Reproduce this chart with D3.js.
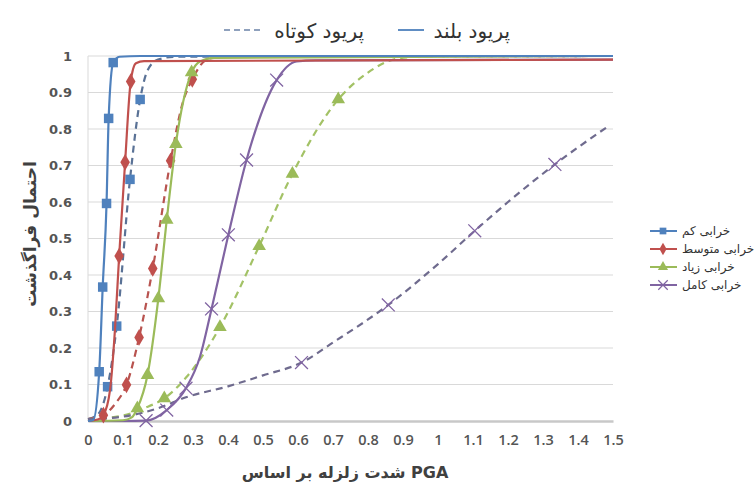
<!DOCTYPE html>
<html>
<head>
<meta charset="utf-8">
<script src="https://cdn.jsdelivr.net/npm/d3@7"></script>
<style>
  body { margin: 0; background: #fff; }
  svg { display: block; }
</style>
</head>
<body>
<svg id="chart" width="756" height="488"></svg>
<script>
// tick labels
const xTicks = [0, 0.1, 0.2, 0.3, 0.4, 0.5, 0.6, 0.7, 0.8, 0.9, 1, 1.1, 1.2, 1.3, 1.4, 1.5]
const yTicks = [0, 0.1, 0.2, 0.3, 0.4, 0.5, 0.6, 0.7, 0.8, 0.9, 1]

const damageNames = ['خرابی کم', 'خرابی متوسط', 'خرابی زیاد', 'خرابی کامل']
const periodNames = ['پریود بلند', 'پریود کوتاه']

// curves, [PGA, probability]
// long period = solid, short period = dashed
const lowLong = [[0, 0], [0.015, 0.003], [0.032, 0.135], [0.042, 0.367], [0.053, 0.596], [0.059, 0.829], [0.072, 0.982], [0.09, 0.998], [0.15, 1], [1.5, 1]]
const lowLongMarks = [[0.032, 0.135], [0.042, 0.367], [0.053, 0.596], [0.059, 0.829], [0.072, 0.982]]
const lowShort = [[0, 0.005], [0.03, 0.02], [0.056, 0.094], [0.082, 0.26], [0.12, 0.662], [0.149, 0.881], [0.17, 0.96], [0.2, 0.99], [0.25, 0.998], [1.5, 1]]
const lowShortMarks = [[0.056, 0.094], [0.082, 0.26], [0.12, 0.662], [0.149, 0.881]]

const modLong = [[0, 0], [0.03, 0.005], [0.044, 0.016], [0.063, 0.085], [0.077, 0.25], [0.089, 0.452], [0.106, 0.709], [0.122, 0.93], [0.137, 0.98], [0.16, 0.986], [1.5, 0.99]]
const modLongMarks = [[0.044, 0.016], [0.089, 0.452], [0.106, 0.709], [0.122, 0.93]]
const modShort = [[0, 0.005], [0.05, 0.02], [0.08, 0.05], [0.11, 0.099], [0.146, 0.229], [0.185, 0.418], [0.236, 0.713], [0.27, 0.87], [0.298, 0.936], [0.339, 0.99], [0.38, 0.998], [1.5, 1]]
const modShortMarks = [[0.11, 0.099], [0.146, 0.229], [0.185, 0.418], [0.236, 0.713], [0.298, 0.936]]

const highLong = [[0, 0], [0.1, 0.002], [0.125, 0.01], [0.141, 0.035], [0.17, 0.126], [0.201, 0.336], [0.225, 0.551], [0.251, 0.759], [0.296, 0.955], [0.32, 0.985], [0.36, 0.995], [1.5, 1]]
const highLongMarks = [[0.141, 0.035], [0.17, 0.126], [0.201, 0.336], [0.225, 0.551], [0.251, 0.759], [0.296, 0.955]]
const highShort = [[0, 0.005], [0.1, 0.015], [0.16, 0.035], [0.218, 0.062], [0.282, 0.121], [0.377, 0.257], [0.489, 0.479], [0.584, 0.677], [0.715, 0.881], [0.796, 0.952], [0.891, 0.994], [1, 1], [1.5, 1]]
const highShortMarks = [[0.218, 0.062], [0.377, 0.257], [0.489, 0.479], [0.584, 0.677], [0.715, 0.881]]

const compLong = [[0, 0], [0.1, 0], [0.166, 0.001], [0.225, 0.03], [0.28, 0.09], [0.32, 0.176], [0.353, 0.307], [0.401, 0.51], [0.453, 0.715], [0.539, 0.934], [0.596, 0.985], [0.65, 0.988], [1.5, 0.99]]
const compLongMarks = [[0.166, 0.001], [0.225, 0.03], [0.28, 0.09], [0.353, 0.307], [0.401, 0.51], [0.453, 0.715], [0.539, 0.934]]
const compShort = [[0, 0.005], [0.1, 0.012], [0.2, 0.035], [0.28, 0.065], [0.4, 0.095], [0.5, 0.125], [0.61, 0.16], [0.7, 0.215], [0.858, 0.318], [1, 0.43], [1.105, 0.521], [1.2, 0.6], [1.334, 0.703], [1.49, 0.81]]
const compShortMarks = [[0.61, 0.16], [0.858, 0.318], [1.105, 0.521], [1.334, 0.703]]

const colors = ['#4f81bd', '#c0504d', '#9bbb59', '#8064a2']
const dashColors = ['#5a7296', '#b8534f', '#a3c266', '#6f6b8e']
const symbols = [d3.symbolSquare, d3.symbolDiamond, d3.symbolTriangle, d3.symbolX]
const markSize = [90, 80, 80, 110]

const series = [
  {i: 0, line: lowShort, marks: lowShortMarks, dashed: true},
  {i: 1, line: modShort, marks: modShortMarks, dashed: true},
  {i: 2, line: highShort, marks: highShortMarks, dashed: true},
  {i: 3, line: compShort, marks: compShortMarks, dashed: true},
  {i: 3, line: compLong, marks: compLongMarks, dashed: false},
  {i: 2, line: highLong, marks: highLongMarks, dashed: false},
  {i: 1, line: modLong, marks: modLongMarks, dashed: false},
  {i: 0, line: lowLong, marks: lowLongMarks, dashed: false},
]

const svg = d3.select('#chart')
const x = d3.scaleLinear().domain([0, 1.5]).range([88, 613])
const y = d3.scaleLinear().domain([0, 1]).range([421, 56])

// grid
svg.append('g')
  .selectAll('line')
  .data(yTicks.filter(d => d > 0))
  .join('line')
  .attr('x1', x(0)).attr('x2', x(1.5))
  .attr('y1', d => y(d)).attr('y2', d => y(d))
  .attr('stroke', '#d9d9d9')
  .attr('stroke-width', 1)

svg.append('line')
  .attr('x1', x(0)).attr('x2', x(0))
  .attr('y1', y(0)).attr('y2', y(1))
  .attr('stroke', '#d9d9d9')

// axes, library generated, then restyled
const xAxis = svg.append('g')
  .attr('transform', `translate(0,${y(0)})`)
  .call(d3.axisBottom(x).tickValues(xTicks).tickSize(0).tickPadding(14).tickFormat(d3.format('~g')))
xAxis.select('.domain').attr('stroke', '#c8c8c8').attr('stroke-width', 2.5)
xAxis.selectAll('text')
  .attr('font-family', 'Open Sans, sans-serif')
  .attr('font-size', 14.5).attr('font-weight', 600).attr('fill', '#555')

const yAxis = svg.append('g')
  .attr('transform', `translate(${x(0)},0)`)
  .call(d3.axisLeft(y).tickValues(yTicks).tickSize(0).tickPadding(16).tickFormat(d3.format('~g')))
yAxis.select('.domain').remove()
yAxis.selectAll('text')
  .attr('font-family', 'DejaVu Sans, sans-serif')
  .attr('font-size', 13).attr('font-weight', 'bold').attr('fill', '#555')

// curves
const line = d3.line()
  .x(d => x(d[0])).y(d => y(d[1]))
  .curve(d3.curveMonotoneX)

const plot = svg.append('g')
series.forEach(s => {
  const c = s.dashed ? dashColors[s.i] : colors[s.i]
  plot.append('path')
    .attr('d', line(s.line))
    .attr('fill', 'none')
    .attr('stroke', c)
    .attr('stroke-width', 2.2)
    .attr('stroke-dasharray', s.dashed ? '7,5' : null)
  plot.append('g')
    .selectAll('path')
    .data(s.marks)
    .join('path')
    .attr('transform', d => `translate(${x(d[0])},${y(d[1])})`)
    .attr('d', d3.symbol().type(symbols[s.i]).size(markSize[s.i]))
    .attr('fill', s.i === 3 ? 'none' : colors[s.i])
    .attr('stroke', colors[s.i])
    .attr('stroke-width', s.i === 3 ? 1.3 : 0)
})

// axis titles
svg.append('text')
  .attr('transform', `translate(36,234) rotate(-90)`)
  .attr('text-anchor', 'middle')
  .attr('font-family', 'DejaVu Sans, sans-serif')
  .attr('font-size', 17).attr('font-weight', 'bold').attr('fill', '#404040')
  .text('احتمال فراگذشت')

svg.append('text')
  .attr('x', 345).attr('y', 478)
  .attr('text-anchor', 'middle')
  .attr('font-family', 'DejaVu Sans, sans-serif')
  .attr('font-size', 16).attr('font-weight', 'bold').attr('fill', '#404040')
  .attr('direction', 'ltr')
  .text('شدت زلزله بر اساس PGA')

// period legend at the top
const periodLegend = svg.append('g').attr('font-family', 'DejaVu Sans, sans-serif')
  .attr('font-size', 20).attr('fill', '#333')
periodLegend.append('text').attr('x', 510).attr('y', 38).attr('text-anchor', 'end').text(periodNames[0])
periodLegend.append('line').attr('x1', 398).attr('x2', 424).attr('y1', 30).attr('y2', 30)
  .attr('stroke', colors[0]).attr('stroke-width', 1.8)
periodLegend.append('text').attr('x', 364).attr('y', 38).attr('text-anchor', 'end').text(periodNames[1])
periodLegend.append('line').attr('x1', 224).attr('x2', 260).attr('y1', 30).attr('y2', 30)
  .attr('stroke', '#6b82a8').attr('stroke-width', 1.6).attr('stroke-dasharray', '6,4')

// damage legend on the right
const legend = svg.append('g')
  .selectAll('g')
  .data(damageNames)
  .join('g')
  .attr('transform', (d, i) => `translate(0,${231 + i * 18})`)
legend.append('line')
  .attr('x1', 650).attr('x2', 677)
  .attr('stroke', (d, i) => colors[i]).attr('stroke-width', 2)
legend.append('path')
  .attr('transform', 'translate(663,0)')
  .attr('d', (d, i) => d3.symbol().type(symbols[i]).size(i === 3 ? 60 : 45)())
  .attr('fill', (d, i) => i === 3 ? 'none' : colors[i])
  .attr('stroke', (d, i) => colors[i])
  .attr('stroke-width', (d, i) => i === 3 ? 1.2 : 0)
legend.append('text')
  .attr('x', 682).attr('y', 4)
  .attr('font-family', 'DejaVu Sans, sans-serif')
  .attr('font-size', 12).attr('fill', '#333')
  .text(d => d)
</script>
</body>
</html>
